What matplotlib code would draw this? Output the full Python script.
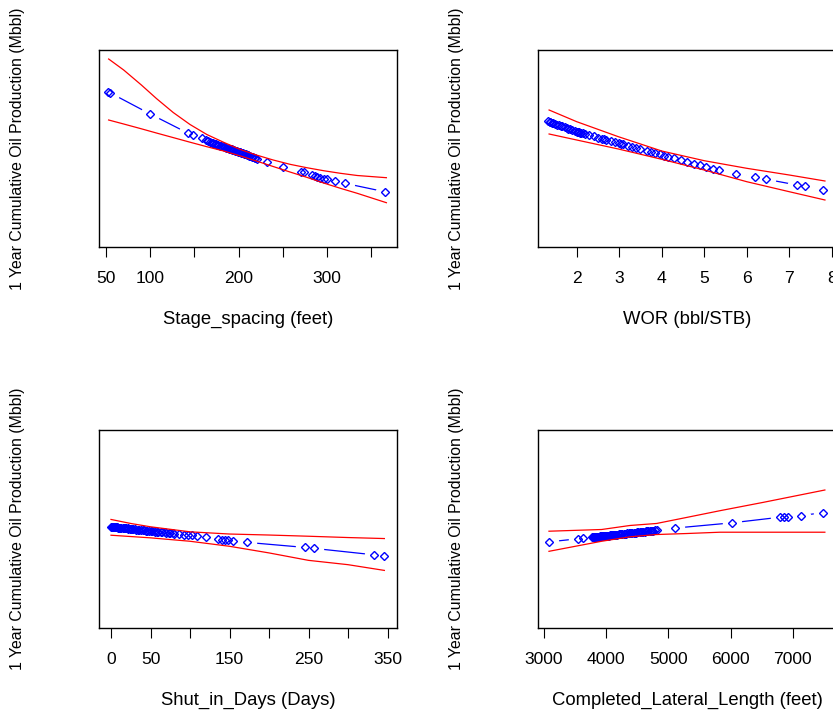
import matplotlib.pyplot as plt

plt.rcParams['font.family'] = ['Liberation Sans', 'DejaVu Sans']

ylab = '1 Year Cumulative Oil Production (Mbbl)'

# Stage spacing: fitted effect at each well, plus confidence band on a grid
stage_x = [52, 54, 100, 143, 148, 158, 163, 165, 168, 170, 171, 173, 174, 176, 177,
           179, 180, 182, 183, 185, 186, 188, 189, 190, 191, 192, 193, 194, 195, 196,
           197, 198, 199, 200, 201, 202, 203, 204, 205, 206, 207, 208, 209, 210, 211,
           212, 213, 215, 216, 218, 219, 221, 232, 250, 271, 274, 283, 286, 289, 292,
           296, 300, 309, 320, 365]
stage_fit = [155.5, 154.5, 133, 113.7, 112, 108.7, 106.7, 106, 105, 104.3, 104,
             103.3, 103, 102.3, 102, 101.3, 101, 100.6, 100.3, 99.6, 99.3, 98.7, 98.4,
             98.1, 97.8, 97.5, 97.2, 96.9, 96.6, 96.3, 96, 95.7, 95.4, 95.1, 94.9, 94.6,
             94.3, 94, 93.7, 93.3, 93, 92.7, 92.4, 92, 91.7, 91.3, 91, 90.4, 90, 89.4,
             89, 88.4, 85, 80.3, 75.2, 74.5, 71.5, 70.7, 70, 69.3, 68.4, 67.5, 66,
             63.7, 55.3]
stage_grid = [53, 70, 90, 107, 126, 145, 164, 183, 202, 220, 239, 258, 277, 296,
              315, 334, 367]
stage_hi = [188, 177, 162, 148.5, 134.5, 122.5, 112.5, 104.7, 97.5, 92, 87, 82.7,
            79.3, 76.3, 73.7, 71.5, 69.3]
stage_lo = [127, 123, 118.2, 114, 109.4, 104.8, 100.3, 96, 91, 86, 80.5, 75, 69.7,
            64, 58.7, 53.7, 44.3]

# Water-oil ratio
wor_x = [1.33, 1.36, 1.38, 1.42, 1.45, 1.5, 1.54, 1.58, 1.62, 1.65, 1.72, 1.76, 1.8,
         1.84, 1.88, 1.95, 2.0, 2.03, 2.05, 2.08, 2.1, 2.15, 2.2, 2.3, 2.4, 2.5, 2.6,
         2.65, 2.7, 2.8, 2.9, 3.0, 3.05, 3.1, 3.2, 3.3, 3.4, 3.5, 3.65, 3.75, 3.85,
         3.95, 4.05, 4.15, 4.3, 4.45, 4.6, 4.75, 4.9, 5.05, 5.2, 5.35, 5.75, 6.2,
         6.45, 7.18, 7.37, 7.8]
wor_fit = [125.6, 125.1, 124.8, 124.2, 123.7, 122.9, 122.3, 121.7, 121.1, 120.6,
           119.5, 118.9, 118.4, 117.8, 117.2, 116.1, 115.3, 114.9, 114.7, 114.4,
           114.1, 113.6, 113, 111.8, 110.7, 109.5, 108.3, 107.8, 107.2, 106, 104.9,
           103.7, 103.1, 102.5, 101.3, 100.2, 99, 97.9, 96.1, 94.9, 93.8, 92.6, 91.4,
           90.3, 88.5, 86.8, 85, 83.3, 81.6, 79.9, 78.2, 76.5, 73.3, 69.8, 67.8, 62,
           60.5, 56.5]
wor_grid = [1.35, 2.0, 2.98, 4.0, 5.0, 6.0, 7.0, 7.84]
wor_hi = [137, 125.3, 110.3, 96, 86.3, 78.7, 72, 66]
wor_lo = [113, 107, 98, 87.7, 77, 65.3, 55.3, 47]

# Shut-in days
shut_x = [0, 1, 2, 3, 4, 5, 6, 7, 8, 9, 10, 12, 13, 15, 16, 18, 19, 21, 22, 24, 25,
          27, 28, 30, 32, 34, 36, 38, 40, 42, 44, 46, 48, 50, 52, 54, 56, 58, 60, 63,
          65, 68, 70, 73, 75, 78, 80, 86, 92, 97, 102, 109, 120, 136, 140, 144, 148,
          155, 172, 245, 257, 333, 346]
shut_fit = [100.7, 100.6, 100.5, 100.5, 100.4, 100.3, 100.2, 100.1, 100, 99.9, 99.9,
            99.7, 99.6, 99.5, 99.4, 99.2, 99.1, 99, 98.9, 98.7, 98.6, 98.5, 98.4,
            98.2, 98, 97.9, 97.7, 97.6, 97.4, 97.2, 97, 96.9, 96.7, 96.6, 96.4, 96.2,
            96, 95.9, 95.7, 95.5, 95.3, 95.1, 94.9, 94.7, 94.5, 94.2, 94, 93.5, 93,
            92.6, 92.2, 91.4, 90.4, 88.2, 87.9, 87.6, 87.3, 86.7, 85.2, 80.2, 79.2,
            72.8, 72]
shut_grid = [0, 25, 50, 100, 150, 200, 250, 300, 346]
shut_hi = [108, 104, 100.7, 95.7, 93.5, 92.5, 91.3, 90, 89]
shut_lo = [92.3, 91, 89.7, 86.3, 81.3, 74.7, 67.3, 63, 57.3]

# Completed lateral length
lat_x = [3080, 3552, 3632, 3766, 3790, 3800, 3815, 3830, 3845, 3860, 3875, 3890,
         3905, 3920, 3935, 3950, 3965, 3980, 3995, 4010, 4025, 4040, 4055, 4070,
         4085, 4100, 4115, 4130, 4145, 4160, 4180, 4200, 4220, 4240, 4260, 4280,
         4300, 4320, 4340, 4360, 4380, 4400, 4420, 4440, 4460, 4480, 4500, 4520,
         4540, 4560, 4580, 4600, 4620, 4640, 4660, 4680, 4700, 4720, 4740, 4760,
         4785, 4812, 5106, 6017, 6794, 6864, 6917, 7127, 7490]
lat_fit = [85.7, 88.8, 89.3, 90.2, 90.3, 90.4, 90.5, 90.6, 90.7, 90.8, 90.9, 91,
           91.1, 91.2, 91.3, 91.4, 91.5, 91.6, 91.7, 91.8, 91.9, 92, 92.1, 92.2,
           92.3, 92.4, 92.5, 92.6, 92.7, 92.8, 93, 93.2, 93.3, 93.5, 93.6, 93.7,
           93.9, 94, 94.2, 94.3, 94.4, 94.5, 94.7, 94.8, 94.9, 95, 95.2, 95.3, 95.5,
           95.6, 95.7, 95.8, 96, 96.1, 96.2, 96.3, 96.5, 96.6, 96.8, 96.9, 97.1,
           97.2, 99.4, 104.6, 110.2, 110.5, 110.8, 111.9, 114.7]
lat_grid = [3080, 3927, 4383, 4811, 5294, 5830, 6526, 7518]
lat_hi = [96.3, 98, 102, 104, 110, 116.7, 125, 137.3]
lat_lo = [76.3, 86.3, 90.7, 93, 94, 95.3, 95.3, 95.3]

W, H = 833, 717
fig = plt.figure(figsize=(W / 100, H / 100), dpi=100)


def effect_panel(left, top, height, x, fit, grid, lo, hi, xlim, ticks, labels, xlabel):
    ax = fig.add_axes([left / W, (H - top - height) / H, 298 / W, height / H])
    # line broken around each point, like R's type="b"
    ax.plot(x, fit, color='blue', lw=0.9, zorder=2.0)
    ax.plot(x, fit, 'o', ms=14, mfc='white', mec='none', zorder=2.1)
    ax.plot(x, fit, 'D', ms=4.0, mfc='none', mec='blue', mew=1.0, zorder=2.6)
    ax.plot(grid, hi, color='red', lw=0.9, zorder=2.7)
    ax.plot(grid, lo, color='red', lw=0.9, zorder=2.7)
    ax.set_xlim(*xlim)
    ax.set_ylim(0, 197)
    ax.set_yticks([])
    ax.set_xticks(ticks)
    ax.set_xticklabels(labels)
    ax.tick_params(axis='x', length=7.5, width=0.8, pad=10, labelsize=12.6)
    for s in ax.spines.values():
        s.set_linewidth(1.0)
    ax.set_xlabel(xlabel, fontsize=13.3, labelpad=18)
    ax.set_ylabel(ylab, fontsize=11.4, va='center')
    ax.yaxis.set_label_coords(-81 / 298, 0.5)
    return ax


effect_panel(99, 50, 197, stage_x, stage_fit, stage_grid, stage_lo, stage_hi,
             (42.1, 379), [50, 100, 150, 200, 250, 300, 350],
             ['50', '100', '', '200', '', '300', ''], 'Stage_spacing (feet)')
effect_panel(538, 50, 197, wor_x, wor_fit, wor_grid, wor_lo, wor_hi,
             (1.089, 8.10), [2, 3, 4, 5, 6, 7, 8],
             ['2', '3', '4', '5', '6', '7', '8'], 'WOR (bbl/STB)')
effect_panel(99, 430, 198, shut_x, shut_fit, shut_grid, shut_lo, shut_hi,
             (-15.2, 362), [0, 50, 100, 150, 200, 250, 300, 350],
             ['0', '50', '', '150', '', '250', '', '350'], 'Shut_in_Days (Days)')
effect_panel(538, 430, 198, lat_x, lat_fit, lat_grid, lat_lo, lat_hi,
             (2903.5, 7697), [3000, 4000, 5000, 6000, 7000],
             ['3000', '4000', '5000', '6000', '7000'], 'Completed_Lateral_Length (feet)')

fig.savefig('out.png', dpi=100)
